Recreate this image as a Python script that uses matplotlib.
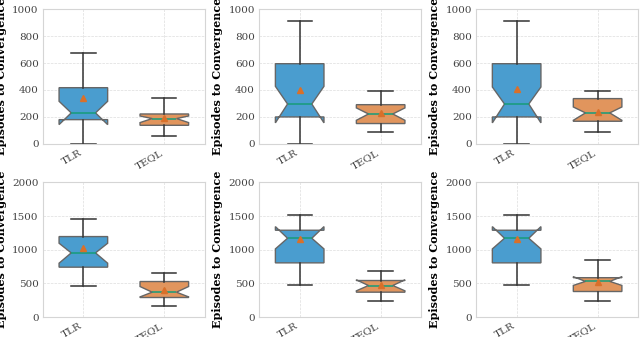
import matplotlib
matplotlib.use('Agg')
import matplotlib.pyplot as plt

plt.rcParams['font.family'] = 'DejaVu Serif'

methods = ["TLR", "TEQL"]

# per panel, per method: box stats
whislo = [[0, 62], [0, 89], [0, 89], [469, 158], [479, 232], [479, 232]]
q1 = [[180, 138], [200, 151], [200, 168], [741, 291], [805, 370], [805, 380]]
cilo = [[143, 158], [156, 175], [156, 175], [800, 300], [1012, 390], [1012, 470]]
med = [[230, 188], [296, 222], [296, 230], [953, 370], [1170, 469], [1170, 530]]
cihi = [[316, 207], [427, 267], [422, 274], [1096, 454], [1343, 553], [1343, 600]]
q3 = [[417, 222], [595, 291], [595, 336], [1195, 528], [1289, 543], [1289, 585]]
whishi = [[672, 338], [909, 390], [909, 390], [1452, 652], [1516, 687], [1516, 849]]
means = [[340, 193], [398, 230], [407, 237], [1022, 395], [1160, 470], [1160, 516]]

ylims = [1000, 1000, 1000, 2000, 2000, 2000]
ysteps = [200, 200, 200, 500, 500, 500]

box_colors = ["#4a9dcf", "#e1955d"]

fig = plt.figure(figsize=(6.4, 3.37), dpi=100)
lefts = [0.067, 0.405, 0.744]
bottoms = [0.573, 0.059]

for i in range(6):
    ax = fig.add_axes([lefts[i % 3], bottoms[i // 3], 0.253, 0.40])
    stats = []
    for j in range(2):
        stats.append(dict(med=med[i][j], q1=q1[i][j], q3=q3[i][j],
                          whislo=whislo[i][j], whishi=whishi[i][j],
                          mean=means[i][j], cilo=cilo[i][j], cihi=cihi[i][j],
                          fliers=[], label=methods[j]))
    bp = ax.bxp(stats, positions=[1, 2], widths=0.6, shownotches=True,
                patch_artist=True, showmeans=True, showfliers=False,
                boxprops=dict(edgecolor="#666666", linewidth=1.0),
                whiskerprops=dict(color="#333333", linewidth=1.1),
                capprops=dict(color="#333333", linewidth=1.1),
                medianprops=dict(color="#169c7a", linewidth=1.1),
                meanprops=dict(marker="^", markerfacecolor="#d9702a",
                               markeredgecolor="#d9702a", markersize=5))
    for patch, c in zip(bp["boxes"], box_colors):
        patch.set_facecolor(c)
    ax.set_xlim(0.5, 2.5)
    ax.set_ylim(0, ylims[i])
    ax.set_yticks(range(0, ylims[i] + 1, ysteps[i]))
    ax.set_xticks([1, 2])
    ax.set_xticklabels(methods, rotation=30, ha="right")
    ax.tick_params(length=0, labelsize=7.5, colors="#444444", pad=3)
    ax.grid(True, linestyle="--", linewidth=0.5, color="#dddddd")
    ax.set_axisbelow(True)
    for s in ax.spines.values():
        s.set_color("#d5d5d5")
    ax.set_ylabel("Episodes to Convergence", fontsize=8, fontweight="bold",
                  labelpad=4)

fig.savefig("out.png", dpi=100)
